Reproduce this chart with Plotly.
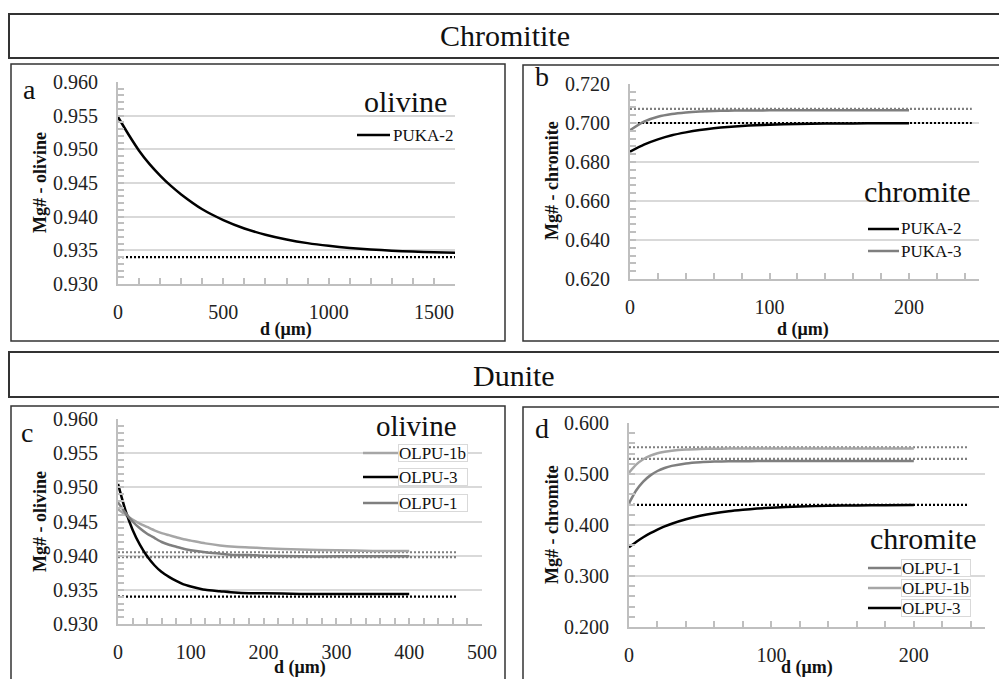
import plotly.graph_objects as go

W, H = 1007, 679
OFF = 8  # page body margin in the browser
FONT = "Liberation Serif"
BLACK = "#000000"
MID = "#7f7f7f"
LIGHT = "#a6a6a6"
GRID = "#d9d9d9"
AXC = "#bfbfbf"

# ---------------- data ----------------
# (a) Chromitite - olivine
a_x = [0, 50, 100, 150, 200, 250, 300, 400, 500, 600, 700, 800, 900, 1000,
       1100, 1200, 1300, 1400, 1500, 1600]
a_puka2 = [0.9548, 0.9522, 0.9498, 0.9478, 0.9461, 0.9446, 0.9433, 0.9411,
           0.9395, 0.93825, 0.93732, 0.93661, 0.93607, 0.93567, 0.93536,
           0.93513, 0.93495, 0.93482, 0.93472, 0.93464]
a_names = ["PUKA-2"]
a_eq = [0.934]
a_eq_end = 1600

# (b) Chromitite - chromite
b_x = [0, 10, 20, 30, 40, 50, 60, 70, 80, 90, 100, 120, 140, 160, 180, 200]
b_puka2 = [0.6853, 0.6889, 0.6916, 0.6937, 0.6952, 0.6964, 0.6973, 0.6980,
           0.6985, 0.6988, 0.6991, 0.6995, 0.6997, 0.6998, 0.6999, 0.6999]
b_puka3 = [0.6963, 0.7007, 0.7032, 0.7046, 0.7054, 0.7059, 0.7062, 0.7063,
           0.7064, 0.7064, 0.7065, 0.7065, 0.7065, 0.7065, 0.7065, 0.7065]
b_names = ["PUKA-2", "PUKA-3"]
b_eq = [0.700, 0.7072]
b_eq_end = 245

# (c) Dunite - olivine
c_x = [0, 10, 20, 30, 40, 50, 60, 70, 80, 90, 100, 120, 140, 160, 180, 200,
       250, 300, 350, 400]
c_olpu1b = [0.9468, 0.9460, 0.9453, 0.9447, 0.9442, 0.9437, 0.9433, 0.9430,
            0.9427, 0.9424, 0.9422, 0.9418, 0.9415, 0.9413, 0.9412, 0.9411,
            0.9409, 0.9408, 0.9407, 0.9407]
c_olpu3 = [0.9505, 0.9467, 0.9438, 0.9416, 0.9399, 0.9386, 0.9376, 0.9369,
           0.9363, 0.9358, 0.9355, 0.9350, 0.9348, 0.9346, 0.9345, 0.9345,
           0.9344, 0.9344, 0.9344, 0.9344]
c_olpu1 = [0.9478, 0.9463, 0.9450, 0.9440, 0.9432, 0.9426, 0.9420, 0.9416,
           0.9413, 0.9410, 0.9408, 0.9405, 0.9403, 0.9401, 0.9401, 0.9400,
           0.9399, 0.9399, 0.9399, 0.9399]
c_names = ["OLPU-1b", "OLPU-3", "OLPU-1"]
c_eq = [0.9405, 0.934, 0.9398]
c_eq_end = 467

# (d) Dunite - chromite
d_x = [0, 5, 10, 15, 20, 25, 30, 40, 50, 60, 70, 80, 90, 100, 120, 140, 160,
       180, 200]
d_olpu1 = [0.4426, 0.4676, 0.4851, 0.4973, 0.5059, 0.5118, 0.5159, 0.5208,
           0.5232, 0.5244, 0.5250, 0.5252, 0.5253, 0.5254, 0.5255, 0.5255,
           0.5255, 0.5255, 0.5255]
d_olpu1b = [0.5026, 0.5183, 0.5288, 0.5359, 0.5406, 0.5437, 0.5458, 0.5481,
            0.5492, 0.5496, 0.5498, 0.5499, 0.5499, 0.5500, 0.5500, 0.5500,
            0.5500, 0.5500, 0.5500]
d_olpu3 = [0.3563, 0.3668, 0.3760, 0.3840, 0.3910, 0.3972, 0.4025, 0.4113,
           0.4180, 0.4231, 0.4270, 0.4299, 0.4322, 0.4339, 0.4363, 0.4376,
           0.4384, 0.4389, 0.4393]
d_names = ["OLPU-1", "OLPU-1b", "OLPU-3"]
d_eq = [0.5295, 0.5525, 0.4395]
d_eq_end = 238


def px(x):
    return (x - OFF) / W


def py(y):
    return 1 - (y - OFF) / H


fig = go.Figure()

panels = [
    dict(n="", x=a_x, ys=[a_puka2], names=a_names, colors=[BLACK], eq=a_eq,
         eq_end=a_eq_end, box=(118, 455, 82, 284), xr=[0, 1600], xd=500,
         xm=100, yr=[0.930, 0.960], yd=0.005, ym=0.001),
    dict(n="2", x=b_x, ys=[b_puka2, b_puka3], names=b_names,
         colors=[BLACK, MID], eq=b_eq, eq_end=b_eq_end,
         box=(630, 978.75, 84, 279), xr=[0, 250], xd=100, xm=20,
         yr=[0.620, 0.720], yd=0.02, ym=0.004),
    dict(n="3", x=c_x, ys=[c_olpu1b, c_olpu3, c_olpu1], names=c_names,
         colors=[LIGHT, BLACK, MID], eq=c_eq, eq_end=c_eq_end,
         box=(118, 482, 419, 624), xr=[0, 500], xd=100, xm=20,
         yr=[0.930, 0.960], yd=0.005, ym=0.001),
    dict(n="4", x=d_x, ys=[d_olpu1, d_olpu1b, d_olpu3], names=d_names,
         colors=[MID, LIGHT, BLACK], eq=d_eq, eq_end=d_eq_end,
         box=(629, 985, 423, 627), xr=[0, 250], xd=100, xm=20,
         yr=[0.200, 0.600], yd=0.1, ym=0.02),
]

tickfont = dict(family=FONT, size=20, color="#222222")
layout_axes = {}
for p in panels:
    n = p["n"]
    x0, x1, y0, y1 = p["box"]
    for val, col in zip(p["eq"], p["colors"]):
        fig.add_trace(go.Scatter(
            x=[0, p["eq_end"]], y=[val, val], mode="lines",
            line=dict(color=col if col != LIGHT else MID, width=2.2,
                      dash="2px,2px"),
            xaxis="x" + n, yaxis="y" + n, showlegend=False, hoverinfo="skip"))
    for ys, col, name in zip(p["ys"], p["colors"], p["names"]):
        fig.add_trace(go.Scatter(
            x=p["x"], y=ys, mode="lines", name=name,
            line=dict(color=col, width=2.5, shape="spline", smoothing=0.6),
            xaxis="x" + n, yaxis="y" + n, showlegend=False))
    layout_axes["xaxis" + n] = dict(
        domain=[px(x0), px(x1)], range=p["xr"], tick0=0, dtick=p["xd"],
        anchor="y" + n, showgrid=False, zeroline=False, showline=True,
        automargin=False,
        linecolor=AXC, linewidth=2, ticks="inside", ticklen=6,
        tickcolor=AXC, tickwidth=1.5, tickfont=tickfont,
        ticklabelstandoff=9,
        minor=dict(dtick=p["xm"], tick0=0, ticks="inside", ticklen=6,
                   tickcolor=AXC, tickwidth=1.5, showgrid=False))
    layout_axes["yaxis" + n] = dict(
        domain=[py(y1), py(y0)], range=p["yr"], tick0=p["yr"][0],
        dtick=p["yd"], anchor="x" + n, tickformat=".3f", showgrid=True,
        automargin=False,
        gridcolor=GRID, gridwidth=2, zeroline=False, showline=True,
        linecolor=AXC, linewidth=2, ticks="inside", ticklen=6,
        tickcolor=AXC, tickwidth=1.5, tickfont=tickfont,
        ticklabelstandoff=14,
        minor=dict(dtick=p["ym"], tick0=p["yr"][0], ticks="inside",
                   ticklen=6, tickcolor=AXC, tickwidth=1.5, showgrid=False))

shapes = []
annotations = []


def rect(x0, y0, x1, y1, w=1.5, col="#333333"):
    shapes.append(dict(type="rect", xref="paper", yref="paper",
                       x0=px(x0), x1=px(x1), y0=py(y1), y1=py(y0),
                       line=dict(color=col, width=w), layer="above"))


def text(x, y, s, size, xanchor="center", bold=False, angle=0, **kw):
    if bold:
        s = "<b>" + s + "</b>"
    annotations.append(dict(x=px(x), y=py(y), xref="paper", yref="paper",
                            text=s, showarrow=False, xanchor=xanchor,
                            yanchor="middle", textangle=angle,
                            font=dict(family=FONT, size=size, color="#111111"),
                            **kw))


rect(9, 14, 1012, 58, w=2)
rect(9, 352, 1012, 397, w=2)
rect(11, 64, 505, 341)
rect(523, 65, 1004, 341)
rect(11, 406, 505, 690)
rect(523, 407, 1004, 690)

text(505, 36, "Chromitite", 30)
text(514, 375, "Dunite", 30)

for (lx, ly, s) in [(29, 89, "a"), (542, 77, "b"), (27, 432, "c"),
                    (542, 428, "d")]:
    text(lx, ly, s, 28)

for (tx, ty, s) in [(40, 183, "Mg# - olivine"), (552, 181, "Mg# - chromite"),
                    (40, 522, "Mg# - olivine"), (552, 525, "Mg# - chromite")]:
    text(tx, ty, s, 18, bold=True, angle=-90)
for (tx, ty) in [(286, 329), (803, 329), (300, 667), (807, 667)]:
    text(tx, ty, "d (μm)", 18, bold=True)

text(449, 102, "olivine", 30, xanchor="right")
text(973, 192, "chromite", 30, xanchor="right")
text(459, 426, "olivine", 29, xanchor="right")
text(979, 538, "chromite", 30, xanchor="right")


def legend_line(x0, x1, y, col):
    shapes.append(dict(type="line", xref="paper", yref="paper",
                       x0=px(x0), x1=px(x1), y0=py(y), y1=py(y),
                       line=dict(color=col, width=2.5), layer="above"))


for name, col, yy in zip(a_names, [BLACK], [135]):
    legend_line(357, 390, yy, col)
    text(391, yy, name, 17, xanchor="left")
for name, col, yy in zip(b_names, [BLACK, MID], [229, 251]):
    legend_line(868, 899, yy, col)
    text(899, yy, name, 17, xanchor="left")
for name, col, yy in zip(c_names, [LIGHT, BLACK, MID], [453, 477, 503]):
    legend_line(363, 398, yy, col)
    text(398, yy, name, 17, xanchor="left", width=68, height=16,
         align="left", bordercolor=GRID, borderwidth=1, borderpad=0,
         bgcolor="white")
for name, col, yy in zip(d_names, [MID, LIGHT, BLACK], [568, 588, 608]):
    legend_line(868, 901, yy, col)
    text(901, yy, name, 17, xanchor="left", width=68, height=16,
         align="left", bordercolor=GRID, borderwidth=1, borderpad=0,
         bgcolor="white")

fig.update_layout(
    width=W, height=H, margin=dict(l=0, r=0, t=0, b=0, autoexpand=False),
    paper_bgcolor="white", plot_bgcolor="white",
    showlegend=False, shapes=shapes, annotations=annotations,
    font=dict(family=FONT), **layout_axes)

fig.write_html("out.html")
